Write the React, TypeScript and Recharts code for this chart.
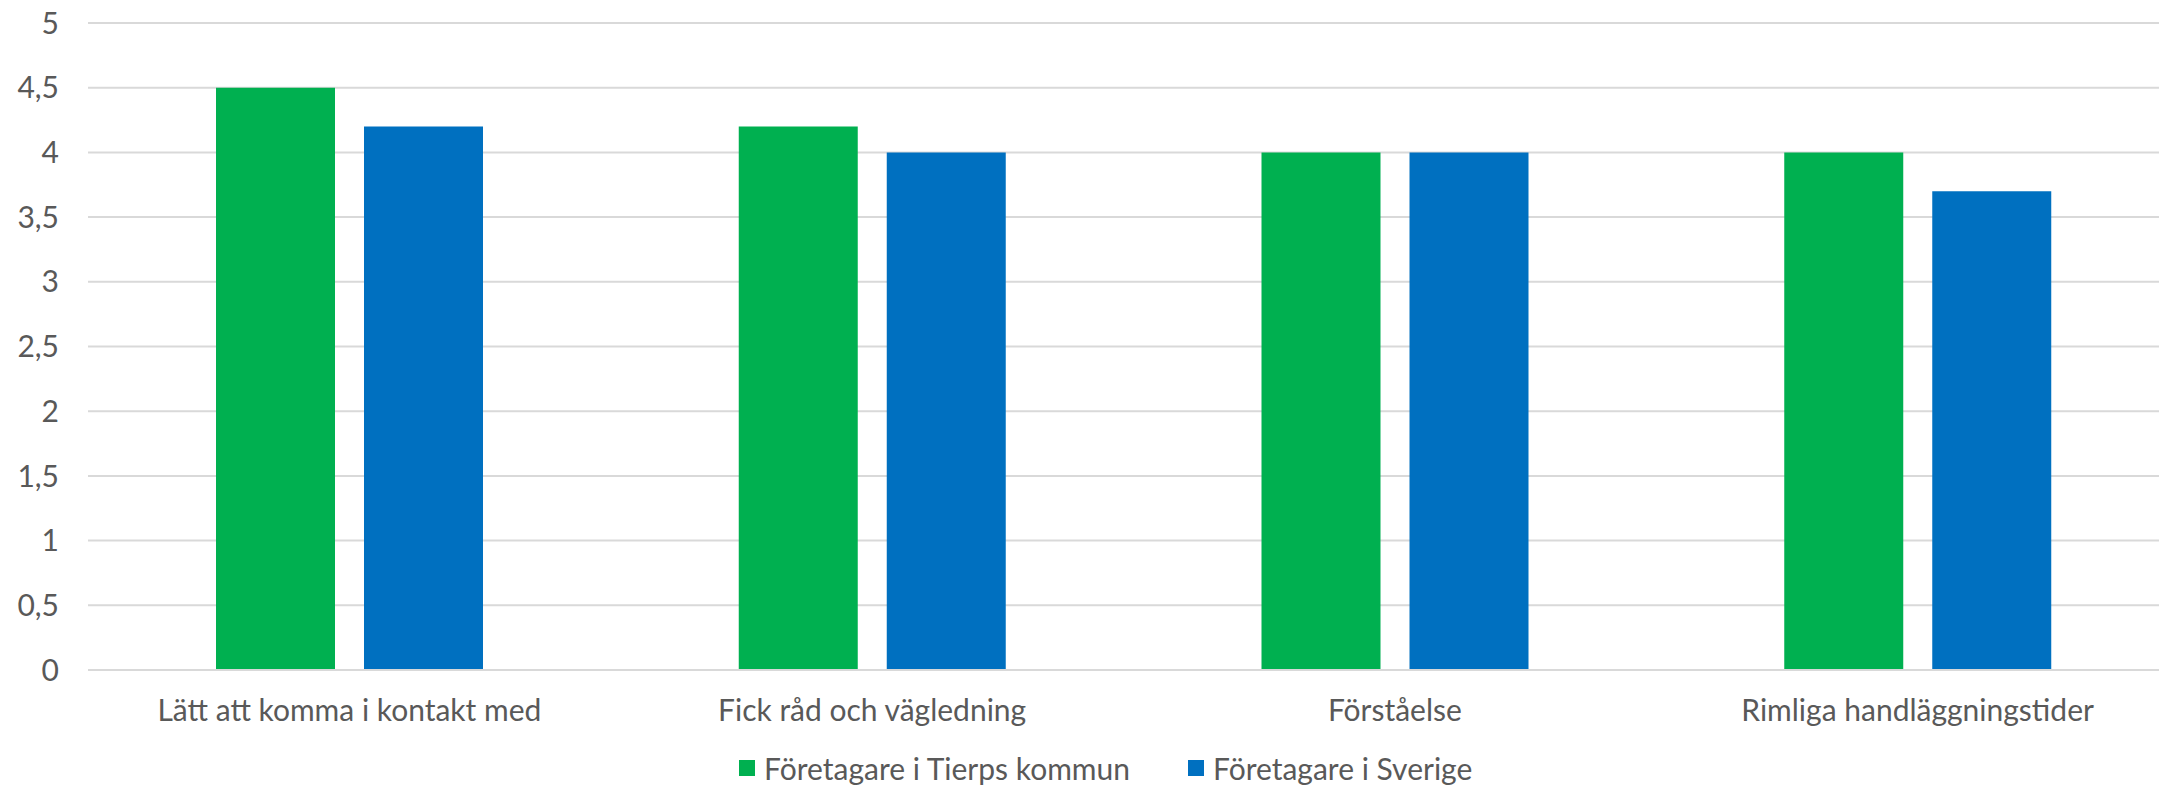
import { BarChart, Bar, XAxis, YAxis, CartesianGrid, Legend } from "recharts";

// kategorier och serier
const categories = [
  "Lätt att komma i kontakt med",
  "Fick råd och vägledning",
  "Förståelse",
  "Rimliga handläggningstider",
];
const tierp = [4.5, 4.2, 4.0, 4.0];
const sverige = [4.2, 4.0, 4.0, 3.7];
const yTicks = [0, 0.5, 1, 1.5, 2, 2.5, 3, 3.5, 4, 4.5, 5];
const seriesNames = ["Företagare i Tierps kommun", "Företagare i Sverige"];
const seriesColors = ["#00B050", "#0070C0"];

const data = categories.map((name, i) => ({
  name,
  tierp: tierp[i],
  sverige: sverige[i],
}));

const FONT = "Lato, 'Open Sans', sans-serif";
const TEXT = "#595959";

// legend utan egen höjd så att plotytan inte krymper
function ChartLegend() {
  return (
    <div style={{ height: 0, overflow: "visible" }}>
      <div style={{ display: "flex", alignItems: "center", fontFamily: FONT, fontSize: 30, color: TEXT, whiteSpace: "nowrap" }}>
        {seriesNames.map((n, i) => (
          <div key={n} style={{ display: "flex", alignItems: "center", marginRight: 58 }}>
            <span style={{ width: 16, height: 16, background: seriesColors[i], marginRight: 9, display: "inline-block" }} />
            <span>{n}</span>
          </div>
        ))}
      </div>
    </div>
  );
}

export default function App() {
  return (
    <div style={{ position: "absolute", left: 0, top: 0, width: 2159, height: 787, overflow: "hidden", background: "#fff" }}>
      <BarChart
        width={2179}
        height={787}
        data={data}
        margin={{ top: 23, right: 0, bottom: 0, left: 0 }}
        barCategoryGap="24%"
        barGap={29}
      >
        <CartesianGrid vertical={false} stroke="#D9D9D9" strokeWidth={2} />
        <XAxis
          dataKey="name"
          height={117}
          axisLine={{ stroke: "#D9D9D9", strokeWidth: 2 }}
          tickLine={false}
          tickSize={0}
          tickMargin={30}
          tick={{ fontSize: 30, fill: TEXT, fontFamily: FONT }}
          interval={0}
        />
        <YAxis
          width={88}
          domain={[0, 5]}
          ticks={yTicks}
          axisLine={false}
          tickLine={false}
          tickSize={0}
          tickMargin={29}
          tick={{ fontSize: 30, fill: TEXT, fontFamily: FONT }}
          tickFormatter={(v: number) => String(v).replace(".", ",")}
        />
        <Legend
          content={<ChartLegend />}
          wrapperStyle={{ position: "absolute", top: 750, left: 739, width: "auto", height: 0 }}
        />
        <Bar dataKey="tierp" name={seriesNames[0]} fill={seriesColors[0]} barSize={119} isAnimationActive={false} />
        <Bar dataKey="sverige" name={seriesNames[1]} fill={seriesColors[1]} barSize={119} isAnimationActive={false} />
      </BarChart>
    </div>
  );
}
